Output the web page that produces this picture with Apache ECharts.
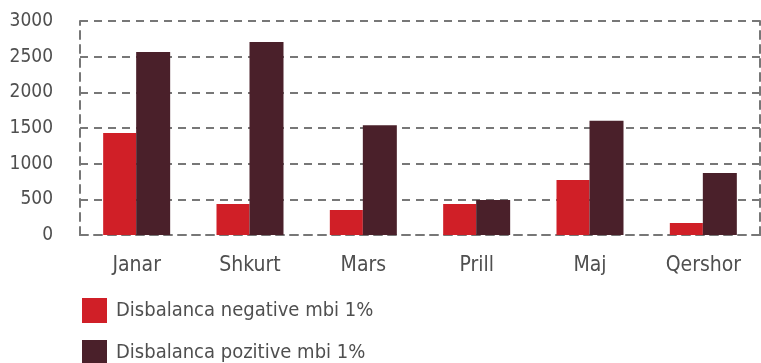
<!DOCTYPE html>
<html>
<head>
<meta charset="utf-8">
<script src="https://cdn.jsdelivr.net/npm/echarts@6/dist/echarts.min.js"></script>
<style>
  html, body { margin: 0; padding: 0; background: #fff; }
  #chart { width: 761px; height: 363px; }
</style>
</head>
<body>
<div id="chart"></div>
<script>
// Monthly counts of imbalances above 1%
const months = ['Janar', 'Shkurt', 'Mars', 'Prill', 'Maj', 'Qershor'];
const negativeValues = [1430, 435, 350, 435, 770, 168];
const positiveValues = [2565, 2705, 1540, 490, 1600, 870];
const yTicks = [0, 500, 1000, 1500, 2000, 2500, 3000];
const seriesNames = ['Disbalanca negative mbi 1%', 'Disbalanca pozitive mbi 1%'];

const FONT = '"DejaVu Sans Condensed", "Liberation Sans", sans-serif';
const TEXT = '#4f4f4f';
const GRID_LINE = { color: '#777', width: 2, type: [8, 6] };

function legendAt(top, name) {
  return {
    orient: 'vertical',
    left: 82,
    top: top,
    padding: 0,
    itemWidth: 25,
    itemHeight: 25,
    icon: 'rect',
    textStyle: { fontFamily: FONT, fontSize: 20, color: TEXT, padding: [0, 0, 0, 4] },
    data: [name]
  };
}

const chart = echarts.init(document.getElementById('chart'), null, { renderer: 'canvas' });
chart.setOption({
  animation: false,
  textStyle: { fontFamily: FONT },
  grid: { left: 80, right: 1, top: 21, bottom: 128, containLabel: false },
  legend: [legendAt(298, seriesNames[0]), legendAt(340, seriesNames[1])],
  xAxis: {
    type: 'category',
    data: months,
    axisTick: { show: false },
    axisLine: { show: true, lineStyle: GRID_LINE },
    axisLabel: { color: TEXT, fontSize: 21, fontFamily: FONT, margin: 20 }
  },
  yAxis: [
    {
      type: 'value',
      min: yTicks[0],
      max: yTicks[yTicks.length - 1],
      interval: 500,
      axisLine: { show: true, lineStyle: GRID_LINE },
      axisTick: { show: false },
      splitLine: { show: true, lineStyle: GRID_LINE },
      axisLabel: {
        color: TEXT, fontSize: 19, fontFamily: FONT, margin: 27,
        formatter: v => String(v)
      }
    },
    {
      type: 'value',
      position: 'right',
      min: yTicks[0],
      max: yTicks[yTicks.length - 1],
      interval: 500,
      axisLine: { show: true, lineStyle: GRID_LINE },
      axisTick: { show: false },
      splitLine: { show: false },
      axisLabel: { show: false }
    }
  ],
  series: [
    {
      name: seriesNames[0],
      type: 'bar',
      data: negativeValues,
      barWidth: 33,
      barGap: '0%',
      itemStyle: { color: '#d01f27' }
    },
    {
      name: seriesNames[1],
      type: 'bar',
      data: positiveValues,
      barWidth: 34,
      barGap: '0%',
      itemStyle: { color: '#4a202a' }
    }
  ]
});
</script>
</body>
</html>
